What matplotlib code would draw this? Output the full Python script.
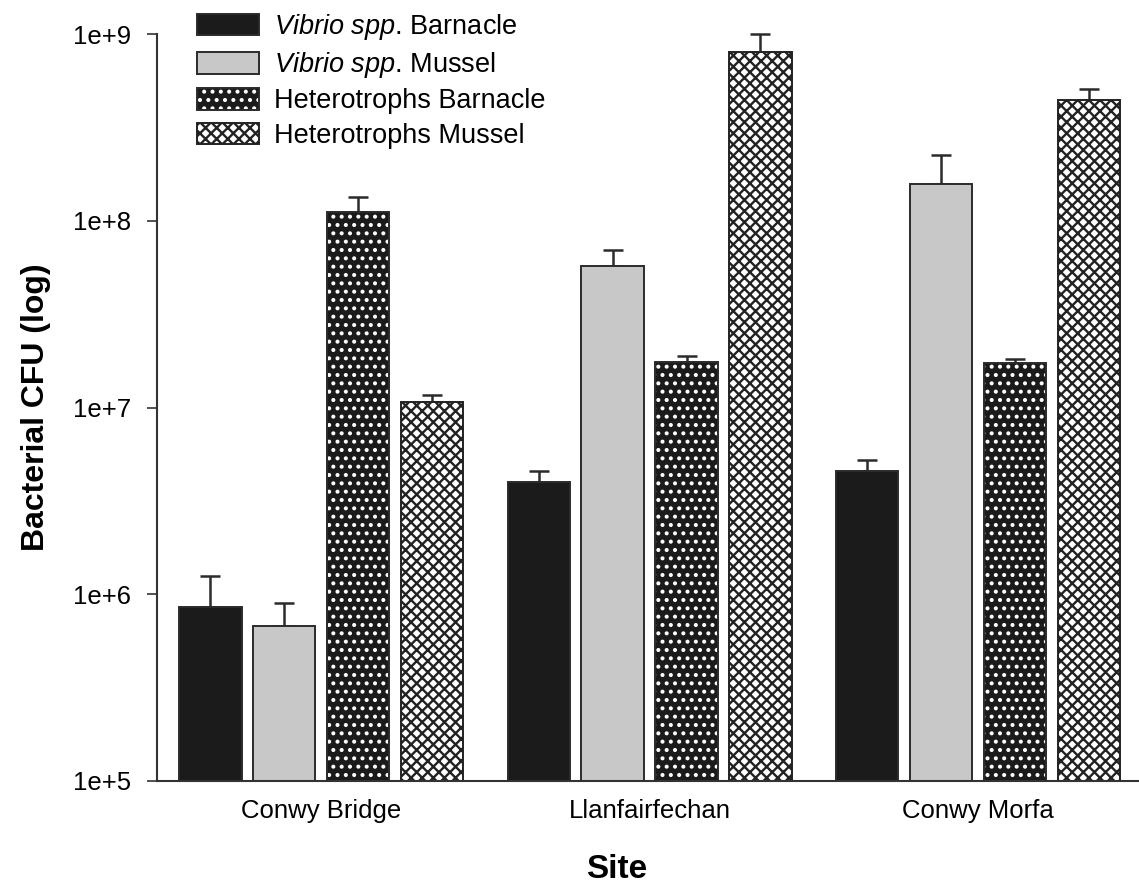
import matplotlib
matplotlib.use("Agg")
import matplotlib.pyplot as plt
import numpy as np
from matplotlib.ticker import FixedLocator, FuncFormatter, NullLocator

plt.rcParams['font.family'] = ['Liberation Sans', 'DejaVu Sans']
plt.rcParams['mathtext.fontset'] = 'custom'
plt.rcParams['mathtext.rm'] = 'Liberation Sans'
plt.rcParams['mathtext.it'] = 'Liberation Sans:italic'
plt.rcParams['hatch.linewidth'] = 1.7

# data (CFU, log scale)
sites = ["Conwy Bridge", "Llanfairfechan", "Conwy Morfa"]
series = [r"$\mathit{Vibrio\ spp}$. Barnacle",
          r"$\mathit{Vibrio\ spp}$. Mussel",
          "Heterotrophs Barnacle",
          "Heterotrophs Mussel"]
vibrio_barnacle = [8.55e5, 3.97e6, 4.55e6]
vibrio_mussel = [6.76e5, 5.7e7, 1.58e8]
hetero_barnacle = [1.12e8, 1.76e7, 1.74e7]
hetero_mussel = [1.067e7, 8.04e8, 4.44e8]
# upper end of error bars
vibrio_barnacle_top = [1.25e6, 4.55e6, 5.21e6]
vibrio_mussel_top = [8.95e5, 7.0e7, 2.26e8]
hetero_barnacle_top = [1.34e8, 1.88e7, 1.81e7]
hetero_mussel_top = [1.16e7, 1.0e9, 5.08e8]
yticks = [1e5, 1e6, 1e7, 1e8, 1e9]

values = [vibrio_barnacle, vibrio_mussel, hetero_barnacle, hetero_mussel]
tops = [vibrio_barnacle_top, vibrio_mussel_top, hetero_barnacle_top, hetero_mussel_top]

fig = plt.figure(figsize=(11.39, 8.92), dpi=100)
ax = fig.add_axes([157 / 1139, 1 - 781 / 892, 1 - 157 / 1139, (781 - 34) / 892])

x = np.arange(len(sites))
step = 0.225
width = 0.19
edge = '#2b2b2b'
handles = []
for i, (vals, top) in enumerate(zip(values, tops)):
    pos = x + (i - 1.5) * step
    vals = np.array(vals)
    err = np.array(top) - vals
    if i == 0:
        b = ax.bar(pos, vals, width, color='#1b1b1b', edgecolor=edge, linewidth=1.4, zorder=2)
        h = b.patches[0]
    elif i == 1:
        b = ax.bar(pos, vals, width, color='#c8c8c8', edgecolor=edge, linewidth=1.4, zorder=2)
        h = b.patches[0]
    elif i == 2:
        # white dots on black: hatch drawn in edge colour, outline added on top
        b1 = ax.bar(pos, vals, width, color='#1b1b1b', edgecolor='white', hatch='..',
                    linewidth=0, zorder=2)
        b2 = ax.bar(pos, vals, width, fill=False, edgecolor=edge, linewidth=1.4, zorder=3)
        h = (b1.patches[0], b2.patches[0])
    else:
        b = ax.bar(pos, vals, width, color='white', edgecolor='#222222', hatch='xxx',
                   linewidth=1.4, zorder=2)
        h = b.patches[0]
    handles.append(h)
    ax.errorbar(pos, vals, yerr=[np.zeros_like(err), err], fmt='none', ecolor='#2b2b2b',
                elinewidth=1.8, capsize=7.5, capthick=1.8, zorder=1, clip_on=False)

ax.set_yscale('log')
ax.set_ylim(1e5, 1e9)
ax.set_xlim(-0.5, 2.49)
ax.yaxis.set_major_locator(FixedLocator(yticks))
ax.yaxis.set_minor_locator(NullLocator())
ax.yaxis.set_major_formatter(FuncFormatter(lambda v, p: f"1e+{int(round(np.log10(v)))}"))
ax.set_xticks(x)
ax.set_xticklabels(sites)

for s in ['top', 'right']:
    ax.spines[s].set_visible(False)
for s in ['left', 'bottom']:
    ax.spines[s].set_color('#333333')
    ax.spines[s].set_linewidth(1.5)
ax.tick_params(axis='y', direction='out', length=7.5, width=1.2, color='#333333',
               labelsize=18.5, pad=11)
ax.tick_params(axis='x', length=0, labelsize=18.5, pad=13)

ax.set_ylabel("Bacterial CFU (log)", fontsize=23, fontweight='bold')
ax.yaxis.set_label_coords(-0.123, 0.5)
ax.yaxis.label.set_verticalalignment('center')
ax.set_xlabel("Site", fontsize=24, fontweight='bold')
ax.xaxis.set_label_coords(0.468, -0.119)
ax.xaxis.label.set_verticalalignment('center')

ax.legend(handles, series, loc='upper left', bbox_to_anchor=(197 / 1139, 1 - 12 / 892),
          bbox_transform=fig.transFigure, frameon=False, fontsize=19.5,
          handlelength=2.3, handleheight=0.85, handletextpad=0.55, labelspacing=0.3,
          borderpad=0, borderaxespad=0)

fig.savefig("out.png", dpi=100)
